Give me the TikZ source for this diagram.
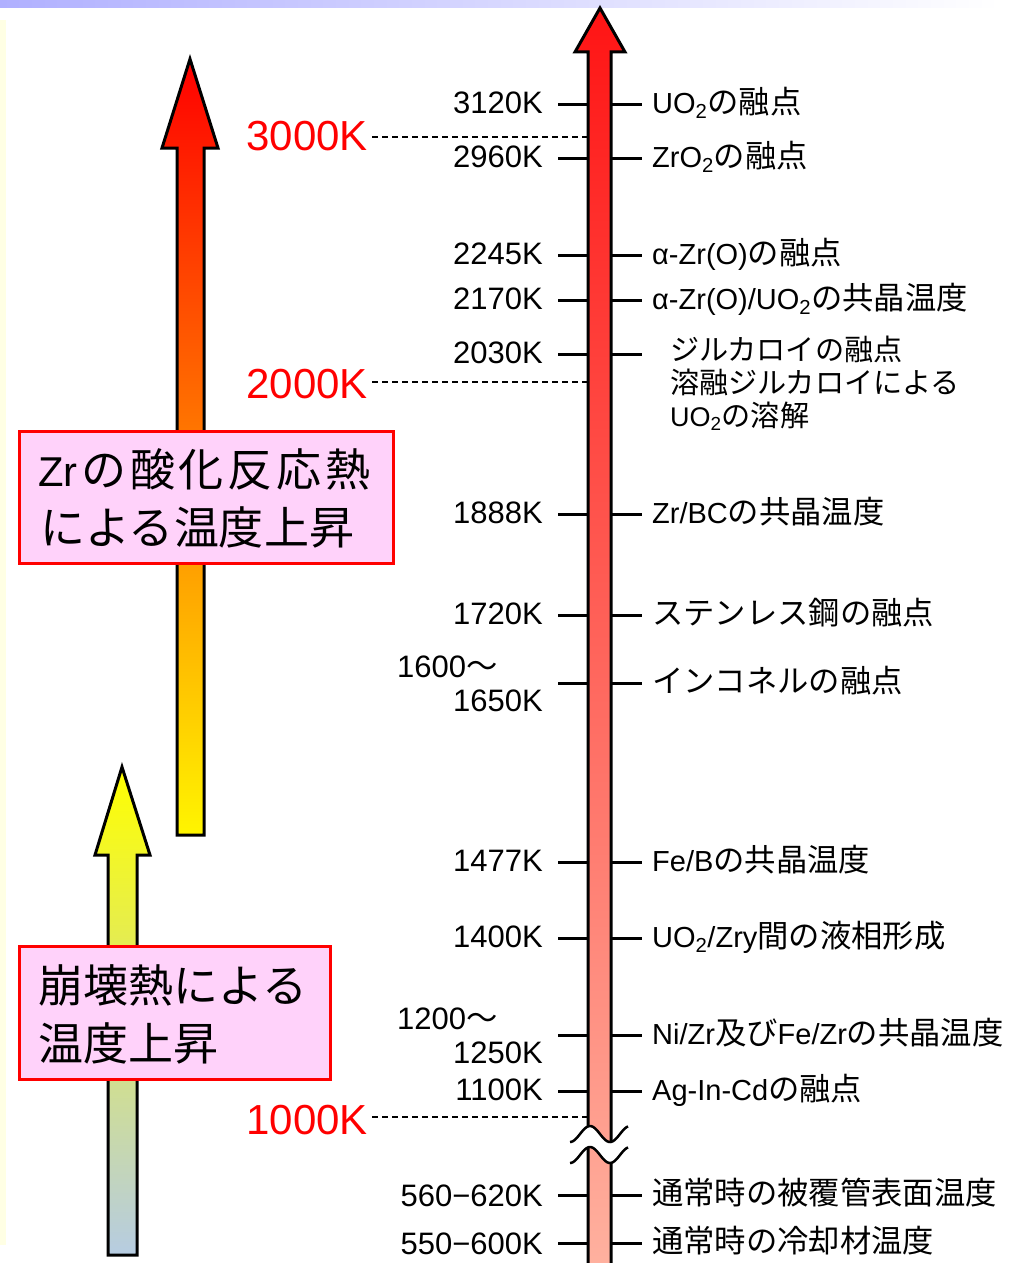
\documentclass[tikz,border=0pt]{standalone}
\usepackage{fontspec}
\setmainfont{Liberation Sans}
\newfontfamily\jp[Scale=1.08]{Noto Sans CJK JP}
\newcommand{\J}[1]{{\jp #1}}
\definecolor{boxpink}{RGB}{255,210,250}
\definecolor{arrowred}{RGB}{255,20,20}
\definecolor{salmon}{RGB}{255,178,160}
\definecolor{midorange}{RGB}{255,120,0}
\definecolor{yellowend}{RGB}{255,245,0}
\definecolor{yellowmid}{RGB}{240,240,70}
\definecolor{greyblue}{RGB}{182,204,226}
\definecolor{bandblue}{RGB}{176,176,255}
\definecolor{stripyellow}{RGB}{255,255,228}
\begin{document}
\begin{tikzpicture}[x=1pt,y=-1pt,
  ltxt/.style={font=\fontsize{31}{36}\selectfont, inner sep=0pt, anchor=base east},
  ltxtw/.style={font=\fontsize{31}{36}\selectfont, inner sep=0pt, anchor=base west},
  rtxt/.style={font=\fontsize{29}{35}\selectfont, inner sep=0pt, anchor=base west},
  rtxtb/.style={font=\fontsize{27}{34}\selectfont, inner sep=0pt, anchor=base west},
  redtxt/.style={font=\fontsize{42}{48}\selectfont, text=red, inner sep=0pt, anchor=base east},
  boxtxt/.style={font=\fontsize{41.7}{50}\selectfont, inner sep=0pt, anchor=base west},
  heatbox/.style={draw=red, line width=3pt, fill=boxpink, inner sep=0pt},
  arrowline/.style={draw=black, line width=3pt, line join=miter},
  tickline/.style={line width=3pt},
  guide/.style={line width=1.4pt, dash pattern=on 6pt off 4pt}]
\useasboundingbox (0,0) rectangle (1035,1263);
% background decorations
\shade[left color=bandblue, right color=white] (0,0) rectangle (1000,8);
\fill[white] (1000,0) rectangle (1035,8);
\fill[stripyellow] (0,20) rectangle (6,1245);

% main temperature arrow
\shade[top color=arrowred, bottom color=salmon, arrowline]
  (588,1275) -- (588,52) -- (575,52) -- (600,8) -- (625,52) -- (611,52) -- (611,1275);

% left arrows
\shade[top color=red, middle color=midorange, bottom color=yellowend, arrowline]
  (177,835) -- (177,148) -- (162,148) -- (190,59) -- (218,148) -- (204,148) -- (204,835) -- cycle;
\shade[top color=yellow, middle color=yellowmid, bottom color=greyblue, arrowline]
  (108,1255) -- (108,855) -- (95,855) -- (122,767) -- (150,855) -- (137,855) -- (137,1255) -- cycle;

% boxes
\node[heatbox, minimum width=374pt, minimum height=132pt] (box1) at (206.5,497.5) {};
\node[boxtxt] (box1a) at (38,486) {\makebox[332pt][s]{Zr\hfill\J{の}\hfill\J{酸}\hfill\J{化}\hfill\J{反}\hfill\J{応}\hfill\J{熱}}};
\node[boxtxt] (box1b) at (40,544) {\J{による温度上昇}};
\node[heatbox, minimum width=311pt, minimum height=133pt] (box2) at (175,1013) {};
\node[boxtxt] (box2a) at (38,1002) {\J{崩壊熱による}};
\node[boxtxt] (box2b) at (38,1060) {\J{温度上昇}};

% ticks
\foreach \ty in {104,158,255,300,354,514,615,683,862,938,1035,1091,1195,1243}{
  \draw[tickline] (558,\ty) -- (588,\ty);
  \draw[tickline] (611,\ty) -- (642,\ty);
}

% left labels
\node[ltxt] (l3120) at (543,113) {3120K};
\node[ltxt] (l2960) at (543,167) {2960K};
\node[ltxt] (l2245) at (543,264) {2245K};
\node[ltxt] (l2170) at (543,309) {2170K};
\node[ltxt] (l2030) at (543,363) {2030K};
\node[ltxt] (l1888) at (543,523) {1888K};
\node[ltxt] (l1720) at (543,624) {1720K};
\node[ltxtw] (l1600) at (397,677) {1600{\fontsize{29}{34}\selectfont\J{〜}}};
\node[ltxt] (l1650) at (543,711) {1650K};
\node[ltxt] (l1477) at (543,871) {1477K};
\node[ltxt] (l1400) at (543,947) {1400K};
\node[ltxtw] (l1200) at (397,1029) {1200{\fontsize{29}{34}\selectfont\J{〜}}};
\node[ltxt] (l1250) at (543,1063) {1250K};
\node[ltxt] (l1100) at (543,1100) {1100K};
\node[ltxt] (l560) at (543,1206) {560−620K};
\node[ltxt] (l550) at (543,1254) {550−600K};

% red reference temperatures and dashed guides
\node[redtxt] (r3000) at (368,150) {3000K};
\node[redtxt] (r2000) at (368,398) {2000K};
\node[redtxt] (r1000) at (368,1134) {1000K};
\coordinate (g3000) at (588,137);
\coordinate (g2000) at (588,382);
\coordinate (g1000) at (588,1117);
\draw[guide] (372,137) -- (g3000);
\draw[guide] (372,382) -- (g2000);
\draw[guide] (372,1117) -- (g1000);

% right labels
\node[rtxt] (t1) at (652,113) {UO\textsubscript{2}\J{の融点}};
\node[rtxt] (t2) at (652,167) {ZrO\textsubscript{2}\J{の融点}};
\node[rtxt] (t3) at (652,264) {α-Zr(O)\J{の融点}};
\node[rtxt] (t4) at (652,309) {α-Zr(O)/UO\textsubscript{2}\J{の共晶温度}};
\node[rtxtb] (t5a) at (670,360) {\J{ジルカロイの融点}};
\node[rtxtb] (t5b) at (670,393) {\J{溶融ジルカロイによる}};
\node[rtxtb] (t5c) at (670,426) {UO\textsubscript{2}\J{の溶解}};
\node[rtxt] (t6) at (652,523) {Zr/BC\J{の共晶温度}};
\node[rtxt] (t7) at (652,624) {\J{ステンレス鋼の融点}};
\node[rtxt] (t8) at (652,692) {\J{インコネルの融点}};
\node[rtxt] (t9) at (652,871) {Fe/B\J{の共晶温度}};
\node[rtxt] (t10) at (652,947) {UO\textsubscript{2}/Zry\J{間の液相形成}};
\node[rtxt] (t11) at (652,1044) {Ni/Zr\J{及び}Fe/Zr\J{の共晶温度}};
\node[rtxt] (t12) at (652,1100) {Ag-In-Cd\J{の融点}};
\node[rtxt] (t13) at (652,1204) {\J{通常時の被覆管表面温度}};
\node[rtxt] (t14) at (652,1252) {\J{通常時の冷却材温度}};

% axis break
\fill[white] plot[domain=570:628, samples=40] (\x, {1134-8*sin(9*(\x-580))})
  -- plot[domain=628:570, samples=40] (\x, {1155-8*sin(9*(\x-580))}) -- cycle;
\draw[line width=2.5pt] plot[domain=570:628, samples=40] (\x, {1134-8*sin(9*(\x-580))});
\draw[line width=2.5pt] plot[domain=570:628, samples=40] (\x, {1155-8*sin(9*(\x-580))});
\end{tikzpicture}
\end{document}
